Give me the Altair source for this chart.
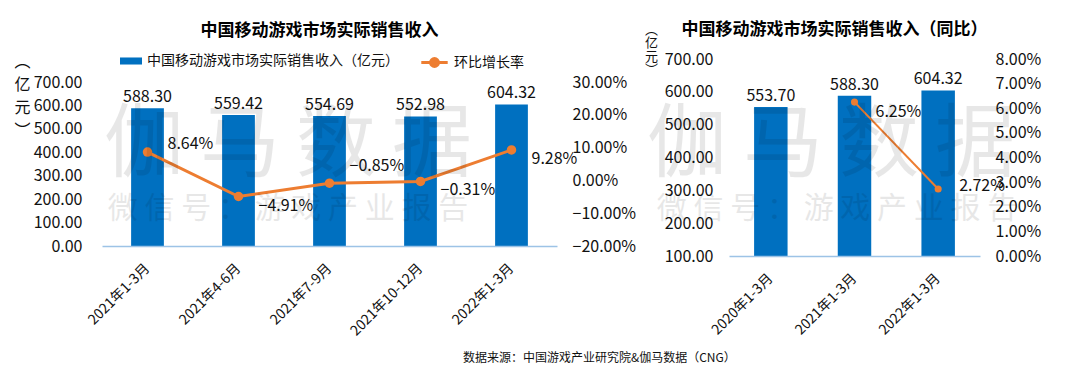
import altair as alt
import pandas as pd

FONT = "Noto Sans CJK SC"
BLUE = "#0070C0"
ORANGE = "#ED7D31"
AXIS_BLUE = "#9DC3E6"

# ---- data: left chart (quarter on quarter) ----
cats1 = ["2021年1-3月", "2021年4-6月", "2021年7-9月", "2021年10-12月", "2022年1-3月"]
rev1 = [588.30, 559.42, 554.69, 552.98, 604.32]
qoq1 = [8.64, -4.91, -0.85, -0.31, 9.28]
lab_pos1 = ["up", "down", "upper", "down", "down"]

# ---- data: right chart (year on year) ----
cats2 = ["2020年1-3月", "2021年1-3月", "2022年1-3月"]
rev2 = [553.70, 588.30, 604.32]
yoy2 = [None, 6.25, 2.72]
lab_pos2 = ["none", "down", "up"]

name_bar = "中国移动游戏市场实际销售收入（亿元）"
name_line = "环比增长率"
title1 = "中国移动游戏市场实际销售收入"
title2 = "中国移动游戏市场实际销售收入（同比）"
source = "数据来源：中国游戏产业研究院&伽马数据（CNG）"
unit_title = ["︵", "亿", "元", "︶"]
wm_big = "伽\u2009马\u2009数\u2009据"
wm_small = "微 信 号 ： 游 戏 产 业 报 告"

df1 = pd.DataFrame({"cat": cats1, "rev": rev1, "rate": qoq1, "pos": lab_pos1,
                    "sbar": name_bar, "sline": name_line})
df2 = pd.DataFrame({"cat": cats2, "rev": rev2, "rate": yoy2, "pos": lab_pos2})

# both panels share the same plot top; the left one starts its scale lower
W1, H1, TOP1 = 455, 187, 23
W2, H2 = 251, 197

bar_sym = "M-1,-0.32H1V0.32H-1Z"
line_sym = "M-1.2,0H1.2M0.36,0A0.36,0.36,0,1,1,-0.36,0A0.36,0.36,0,1,1,0.36,0"


def xaxis():
    return alt.Axis(title=None, labelAngle=-45, labelAlign="right", labelBaseline="middle",
                    labelPadding=20, labelOffset=0, ticks=False, domainColor=AXIS_BLUE,
                    domainWidth=1.5, labelFontSize=14, labelColor="#111", labelLimit=300,
                    labelOverlap=False, zindex=1)


def pct_axis(vals):
    return alt.Axis(orient="right", values=vals, grid=False, domain=False, ticks=False,
                    labelPadding=15, title=None, labelOverlap=False,
                    labelExpr="format(datum.value, '.2f') + '%'")


# ================= left chart =================
x1 = alt.X("cat:N", sort=cats1, scale=alt.Scale(paddingInner=0.64, paddingOuter=0.32), axis=xaxis())
y1 = alt.Y("rev:Q", scale=alt.Scale(domain=[0, 700], range=[H1, TOP1]),
           axis=alt.Axis(values=[0, 100, 200, 300, 400, 500, 600, 700], format=".2f", grid=False,
                         domain=False, ticks=False, labelPadding=20, title=unit_title, titleAngle=0,
                         titleX=-80, titleY=-6, titleAlign="center", titleBaseline="top",
                         titleFontSize=16, titleLineHeight=23, titleFontWeight="normal",
                         titleColor="#111", labelOverlap=False))
yr1 = alt.Y("rate:Q", scale=alt.Scale(domain=[-20, 30], range=[H1, TOP1]),
            axis=pct_axis([-20, -10, 0, 10, 20, 30]))
base1 = alt.Chart(df1)

bars1 = base1.mark_bar().encode(
    x=x1, y=y1,
    color=alt.Color("sbar:N", scale=alt.Scale(domain=[name_bar], range=[BLUE]),
                    legend=alt.Legend(title=None, orient="none", legendX=18, legendY=-9,
                                      symbolType=bar_sym, symbolSize=484, labelFontSize=14,
                                      labelColor="#111", symbolStrokeWidth=0, labelOffset=5,
                                      labelLimit=500, padding=0)),
)
barlab1 = base1.mark_text(baseline="bottom", dy=-3, fontSize=16, color="#111").encode(
    x=x1, y=y1, text=alt.Text("rev:Q", format=".2f"))

line1 = base1.mark_line(strokeWidth=3).encode(
    x=x1, y=yr1,
    stroke=alt.Stroke("sline:N", scale=alt.Scale(domain=[name_line], range=[ORANGE]),
                      legend=alt.Legend(title=None, orient="none", legendX=320, legendY=-9,
                                        symbolType=line_sym, symbolSize=484, symbolStrokeWidth=3,
                                        symbolFillColor=ORANGE, labelFontSize=14,
                                        labelColor="#111", labelOffset=7, padding=0)),
)
pts1 = base1.mark_point(filled=True, size=90, opacity=1, color=ORANGE).encode(x=x1, y=yr1)
dys1 = {"up": -8, "upper": -17, "down": 9}
ratelabs1 = [
    base1.transform_filter(alt.datum.pos == k)
    .transform_calculate(lab="format(datum.rate, '.2f') + '%'")
    .mark_text(align="left", baseline="middle", dx=20, dy=v, fontSize=16, color="#111")
    .encode(x=x1, y=yr1, text="lab:N")
    for k, v in dys1.items()
]

wm1a = alt.Chart(pd.DataFrame({"t": [wm_big]})).mark_text(
    fontSize=80, color="#000", opacity=0.09, align="center", baseline="middle").encode(
    x=alt.value(186), y=alt.value(87), text="t:N")
wm1b = alt.Chart(pd.DataFrame({"t": [wm_small]})).mark_text(
    fontSize=30, color="#000", opacity=0.09, align="center", baseline="middle").encode(
    x=alt.value(186), y=alt.value(150), text="t:N")

left = alt.layer(
    alt.layer(bars1, barlab1),
    alt.layer(line1, pts1, *ratelabs1),
    wm1a, wm1b,
).resolve_scale(y="independent", color="independent").properties(
    width=W1, height=H1,
    title=alt.TitleParams(title1, fontSize=17, fontWeight="bold", color="#000", frame="group",
                          anchor="middle", dx=-10, offset=10),
)

# ================= right chart =================
x2 = alt.X("cat:N", sort=cats2, scale=alt.Scale(paddingInner=0.6, paddingOuter=0.3), axis=xaxis())
y2 = alt.Y("rev:Q", scale=alt.Scale(domain=[100, 700], zero=False, clamp=True),
           axis=alt.Axis(values=[100, 200, 300, 400, 500, 600, 700], format=".2f", grid=False,
                         domain=False, ticks=False, labelPadding=16, title=unit_title, titleAngle=0,
                         titleX=-78, titleY=-36, titleAlign="center", titleBaseline="top",
                         titleFontSize=13, titleLineHeight=13.5, titleFontWeight="normal",
                         titleColor="#111", labelOverlap=False))
yr2 = alt.Y("rate:Q", scale=alt.Scale(domain=[0, 8]), axis=pct_axis([0, 1, 2, 3, 4, 5, 6, 7, 8]))
base2 = alt.Chart(df2)

bars2 = base2.mark_bar(color=BLUE).encode(x=x2, y=y2)
barlab2 = base2.mark_text(baseline="bottom", dy=-3, fontSize=16, color="#111").encode(
    x=x2, y=y2, text=alt.Text("rev:Q", format=".2f"))

line2 = base2.mark_line(strokeWidth=2, color=ORANGE).encode(x=x2, y=yr2)
pts2 = base2.transform_filter("isValid(datum.rate)").mark_point(
    filled=True, size=50, opacity=1, color=ORANGE).encode(x=x2, y=yr2)
dys2 = {"down": 10, "up": -3}
ratelabs2 = [
    base2.transform_filter(alt.datum.pos == k)
    .transform_calculate(lab="format(datum.rate, '.2f') + '%'")
    .mark_text(align="left", baseline="middle", dx=21, dy=v, fontSize=16, color="#111")
    .encode(x=x2, y=yr2, text="lab:N")
    for k, v in dys2.items()
]

wm2a = alt.Chart(pd.DataFrame({"t": [wm_big]})).mark_text(
    fontSize=80, color="#000", opacity=0.09, align="center", baseline="middle").encode(
    x=alt.value(102), y=alt.value(87), text="t:N")
wm2b = alt.Chart(pd.DataFrame({"t": [wm_small]})).mark_text(
    fontSize=30, color="#000", opacity=0.09, align="center", baseline="middle").encode(
    x=alt.value(108), y=alt.value(150), text="t:N")

right = alt.layer(
    alt.layer(bars2, barlab2),
    alt.layer(line2, pts2, *ratelabs2),
    wm2a, wm2b,
).resolve_scale(y="independent").properties(
    width=W2, height=H2,
    title=alt.TitleParams(title2, fontSize=17, fontWeight="bold", color="#000", frame="group",
                          anchor="middle", dx=-20, dy=3, offset=-13),
)

chart = alt.hconcat(left, right, spacing=8).properties(
    title=alt.TitleParams(source, orient="bottom", anchor="middle", fontSize=12,
                          fontWeight="normal", color="#111", dx=72, offset=15),
    padding={"left": 5, "top": 13, "right": 5, "bottom": 0},
).configure(font=FONT).configure_view(stroke=None).configure_axis(
    labelFontSize=16, labelColor="#111", labelFont=FONT, labelOverlap=False
)

chart.save("out.html", embed_options={"renderer": "svg", "actions": False})
